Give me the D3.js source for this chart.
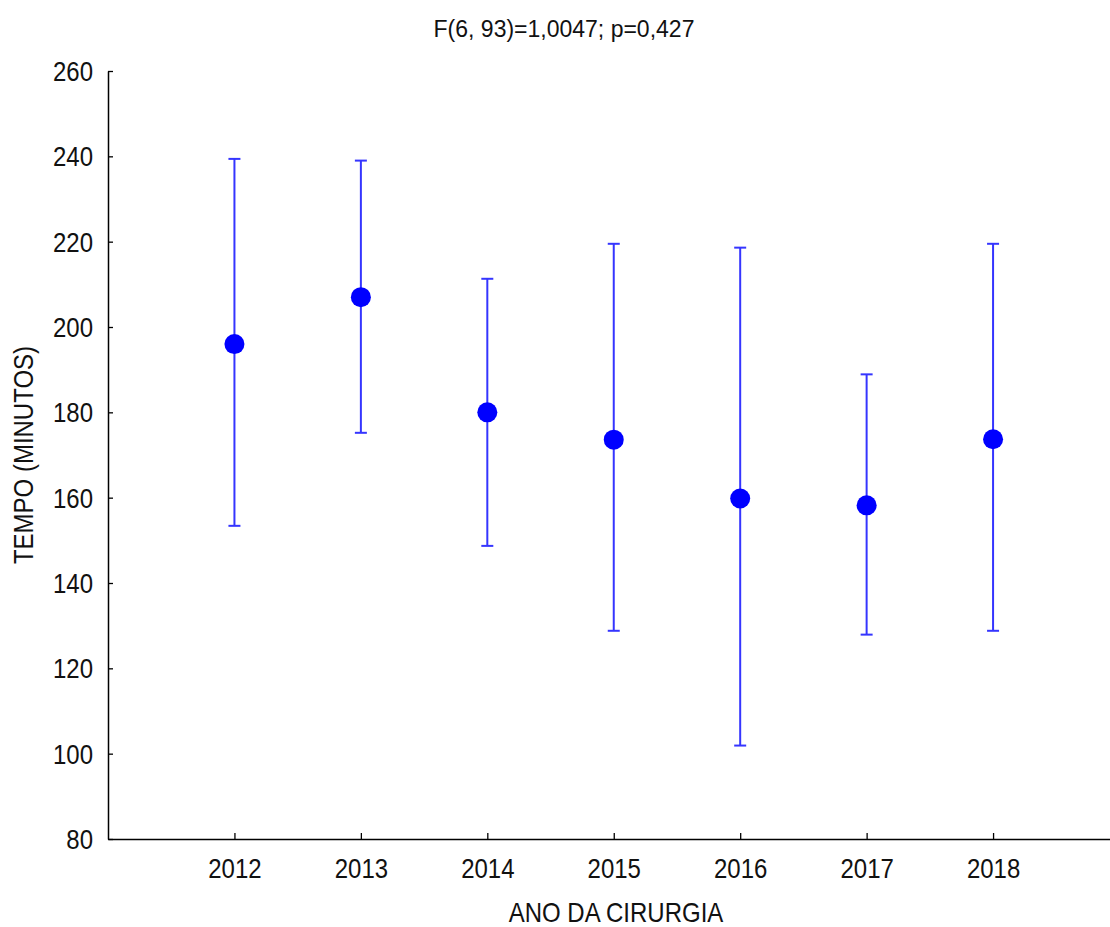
<!DOCTYPE html>
<html>
<head>
<meta charset="utf-8">
<script src="https://cdn.jsdelivr.net/npm/d3@7"></script>
<style>
  body { margin: 0; background: #fff; }
  svg { display: block; font-family: "Liberation Sans", Arial, sans-serif; }
</style>
</head>
<body>
<div id="chart"></div>
<script>
// values
const years = [2012, 2013, 2014, 2015, 2016, 2017, 2018];
const means = [196, 207, 180, 173.6, 159.8, 158.2, 173.7];
const lower = [153.4, 175.2, 148.7, 128.8, 101.9, 127.9, 128.8];
const upper = [239.4, 239, 211.3, 219.5, 218.6, 188.9, 219.5];
const yTicks = [80, 100, 120, 140, 160, 180, 200, 220, 240, 260];

const title = "F(6, 93)=1,0047; p=0,427";
const xTitle = "ANO DA CIRURGIA";
const yTitle = "TEMPO (MINUTOS)";

const width = 1110, height = 927;
const stretch = 1.12; // the original text is a bit taller than plain Arial

const data = years.map((y, i) => ({ year: y, mean: means[i], lo: lower[i], hi: upper[i] }));

const x = d3.scaleLinear().domain([2011, 2019]).range([108, 1119.5]);
const y = d3.scaleLinear().domain([80, 260]).range([839, 71]);

const svg = d3.select("#chart").append("svg")
  .attr("width", width)
  .attr("height", height);

// axes
const xAxis = svg.append("g")
  .attr("transform", `translate(0,${y(80)})`)
  .call(d3.axisBottom(x).tickValues(years).tickFormat(d3.format("d"))
    .tickSizeInner(-6).tickSizeOuter(0));

const yAxis = svg.append("g")
  .attr("transform", `translate(${x(2011)},0)`)
  .call(d3.axisLeft(y).tickValues(yTicks)
    .tickSizeInner(-5).tickSizeOuter(0).tickPadding(15));

[xAxis, yAxis].forEach(g => {
  g.select(".domain").attr("stroke", "#000").attr("stroke-width", 1.5);
  g.selectAll(".tick line").attr("stroke", "#000").attr("stroke-width", 1.3);
  g.selectAll(".tick text")
    .attr("fill", "#111")
    .style("font-size", "24px")
    .style("font-family", "'Liberation Sans', Arial, sans-serif")
    .attr("transform", `scale(1,${stretch})`);
});

// baseline positions, divided by the stretch so they land where wanted
xAxis.selectAll(".tick text").attr("dy", null).attr("y", 39 / stretch);
yAxis.selectAll(".tick text").attr("dy", null).attr("y", 8.6);

// error bars
const bars = svg.append("g").selectAll("g")
  .data(data)
  .join("g")
  .attr("stroke", "#3535ff")
  .attr("stroke-width", 2);

bars.append("line")
  .attr("x1", d => x(d.year)).attr("x2", d => x(d.year))
  .attr("y1", d => y(d.lo)).attr("y2", d => y(d.hi));

bars.append("line")
  .attr("x1", d => x(d.year) - 6).attr("x2", d => x(d.year) + 6)
  .attr("y1", d => y(d.hi)).attr("y2", d => y(d.hi));

bars.append("line")
  .attr("x1", d => x(d.year) - 6).attr("x2", d => x(d.year) + 6)
  .attr("y1", d => y(d.lo)).attr("y2", d => y(d.lo));

// means
svg.append("g").selectAll("circle")
  .data(data)
  .join("circle")
  .attr("cx", d => x(d.year))
  .attr("cy", d => y(d.mean))
  .attr("r", 10)
  .attr("fill", "#0000ff");

// texts
svg.append("text")
  .attr("x", 564).attr("y", 37)
  .attr("text-anchor", "middle")
  .attr("fill", "#111")
  .style("font-size", "23px")
  .text(title);

svg.append("text")
  .attr("transform", `translate(616,922) scale(1,${stretch})`)
  .attr("text-anchor", "middle")
  .attr("fill", "#111")
  .style("font-size", "24px")
  .text(xTitle);

svg.append("text")
  .attr("transform", `translate(33,${(y(80) + y(260)) / 2}) rotate(-90) scale(1,${stretch})`)
  .attr("text-anchor", "middle")
  .attr("fill", "#111")
  .style("font-size", "24px")
  .text(yTitle);
</script>
</body>
</html>
